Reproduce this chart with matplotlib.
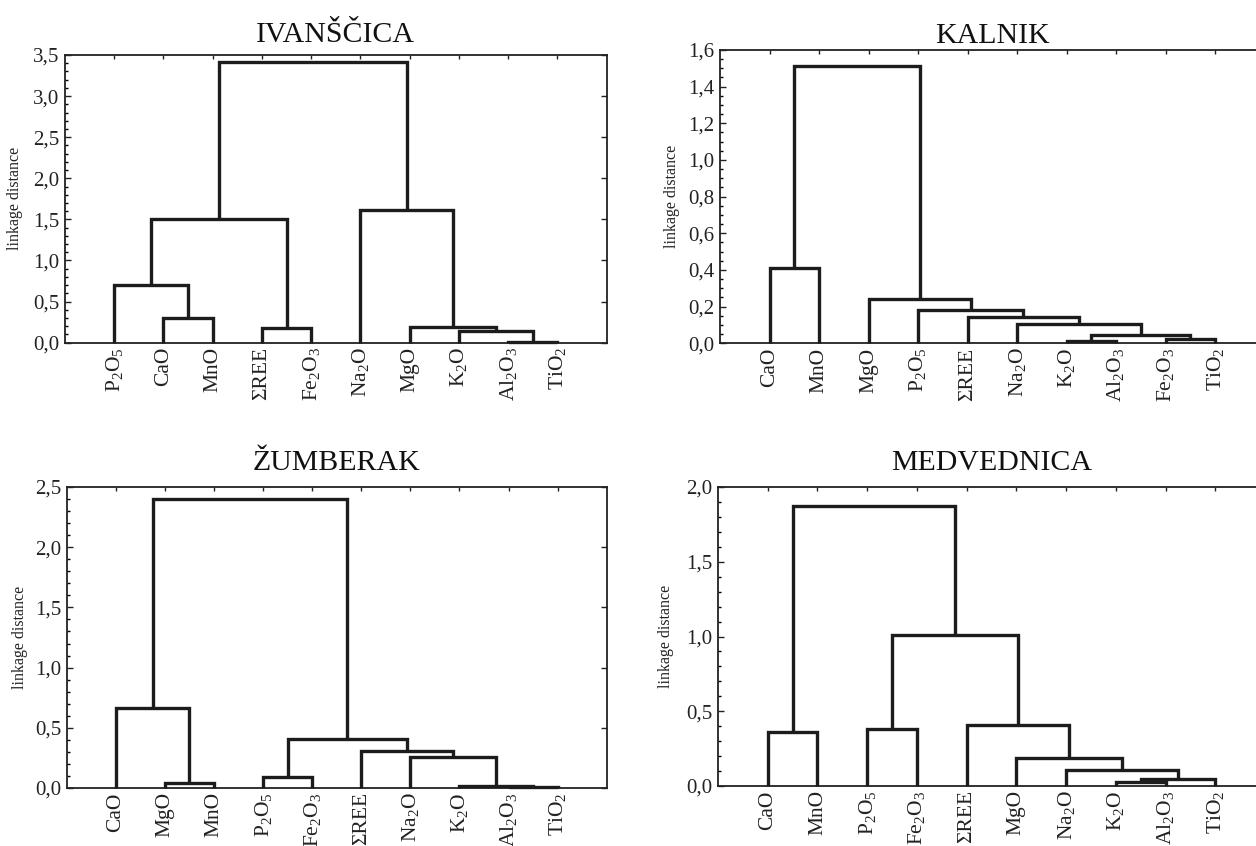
import matplotlib
matplotlib.use('Agg')
import matplotlib.pyplot as plt
from matplotlib.ticker import MultipleLocator, FuncFormatter

plt.rcParams['font.family'] = ['Liberation Serif', 'DejaVu Serif']
plt.rcParams['mathtext.fontset'] = 'custom'
plt.rcParams['mathtext.rm'] = 'Liberation Serif'
plt.rcParams['mathtext.it'] = 'Liberation Serif:italic'
plt.rcParams['mathtext.default'] = 'rm'

# ---------------- data ----------------
# merges: (child_a, child_b, linkage distance); children 0..9 are leaves,
# 10.. are clusters created by earlier merges (scipy-like convention)
iv_title = 'IVANŠČICA'
iv_labels = ['P$_2$O$_5$', 'CaO', 'MnO', 'ΣREE', 'Fe$_2$O$_3$',
             'Na$_2$O', 'MgO', 'K$_2$O', 'Al$_2$O$_3$', 'TiO$_2$']
iv_merges = [(8, 9, 0.01), (7, 10, 0.14), (3, 4, 0.18), (6, 11, 0.19),
             (1, 2, 0.30), (0, 14, 0.70), (15, 12, 1.50), (5, 13, 1.61),
             (16, 17, 3.41)]

ka_title = 'KALNIK'
ka_labels = ['CaO', 'MnO', 'MgO', 'P$_2$O$_5$', 'ΣREE', 'Na$_2$O',
             'K$_2$O', 'Al$_2$O$_3$', 'Fe$_2$O$_3$', 'TiO$_2$']
ka_merges = [(6, 7, 0.013), (8, 9, 0.022), (10, 11, 0.046), (5, 12, 0.108),
             (4, 13, 0.146), (3, 14, 0.18), (2, 15, 0.24), (0, 1, 0.41),
             (17, 16, 1.51)]

zu_title = 'ŽUMBERAK'
zu_labels = ['CaO', 'MgO', 'MnO', 'P$_2$O$_5$', 'Fe$_2$O$_3$', 'ΣREE',
             'Na$_2$O', 'K$_2$O', 'Al$_2$O$_3$', 'TiO$_2$']
zu_merges = [(8, 9, 0.01), (7, 10, 0.02), (1, 2, 0.04), (3, 4, 0.094),
             (6, 11, 0.26), (5, 14, 0.31), (13, 15, 0.405), (0, 12, 0.665),
             (17, 16, 2.40)]

me_title = 'MEDVEDNICA'
me_labels = ['CaO', 'MnO', 'P$_2$O$_5$', 'Fe$_2$O$_3$', 'ΣREE', 'MgO',
             'Na$_2$O', 'K$_2$O', 'Al$_2$O$_3$', 'TiO$_2$']
me_merges = [(7, 8, 0.03), (10, 9, 0.05), (6, 11, 0.105), (5, 12, 0.19),
             (0, 1, 0.36), (2, 3, 0.38), (4, 13, 0.41), (15, 16, 1.01),
             (14, 17, 1.87)]

W, H = 1256, 846
fig = plt.figure(figsize=(W / 100, H / 100), dpi=100)

LINE = '#1c1c1c'


def fmt(v, p):
    return f'{v:.1f}'.replace('.', ',')


def panel(rect_px, title, labels, merges, ymax, major, minor, title_pad, ylab_px):
    left, top, right, bottom = rect_px
    ax = fig.add_axes([left / W, (H - bottom) / H, (right - left) / W, (bottom - top) / H])
    n = len(labels)
    xs = [i + 1 for i in range(n)]
    ys = [0.0] * n
    for a, b, h in merges:
        xa, ya, xb, yb = xs[a], ys[a], xs[b], ys[b]
        ax.plot([xa, xa, xb, xb], [ya, h, h, yb], color=LINE, lw=2.4,
                solid_joinstyle='miter', solid_capstyle='butt', clip_on=False, zorder=3)
        xs.append((xa + xb) / 2)
        ys.append(h)
    ax.set_xlim(0, n + 1)
    ax.set_ylim(0, ymax)
    ax.set_xticks(range(1, n + 1))
    ax.set_xticklabels(labels, rotation=90)
    ax.yaxis.set_major_locator(MultipleLocator(major))
    ax.yaxis.set_minor_locator(MultipleLocator(minor))
    ax.yaxis.set_major_formatter(FuncFormatter(fmt))
    ax.tick_params(axis='x', direction='in', top=True, bottom=False, length=3,
                   width=1, labelsize=15.5, pad=3, colors='#222222')
    ax.tick_params(axis='y', which='major', direction='in', left=True, right=True,
                   length=4, width=1, labelsize=15, pad=4, colors='#222222')
    ax.tick_params(axis='y', which='minor', direction='in', left=True, right=False,
                   length=2, width=1)
    for s in ax.spines.values():
        s.set_linewidth(1.3)
        s.set_color('#222222')
    ax.set_title(title, fontsize=21.5, pad=title_pad, color='#111111')
    ax.set_ylabel('linkage distance', fontsize=11.5, color='#222222')
    ax.yaxis.set_label_coords(-(left - ylab_px) / (right - left), 0.5)
    return ax


panel((65, 55, 606.7, 342.7), iv_title, iv_labels, iv_merges, 3.5, 0.5, 0.1, 9.5, 23)
panel((720, 50, 1264.5, 343.3), ka_title, ka_labels, ka_merges, 1.6, 0.2, 0.05, 5, 680)
panel((66.7, 487, 606.7, 788), zu_title, zu_labels, zu_merges, 2.5, 0.5, 0.1, 12, 28)
panel((718, 487, 1265, 786), me_title, me_labels, me_merges, 2.0, 0.5, 0.1, 12, 674)

fig.savefig('out.png', dpi=100)
